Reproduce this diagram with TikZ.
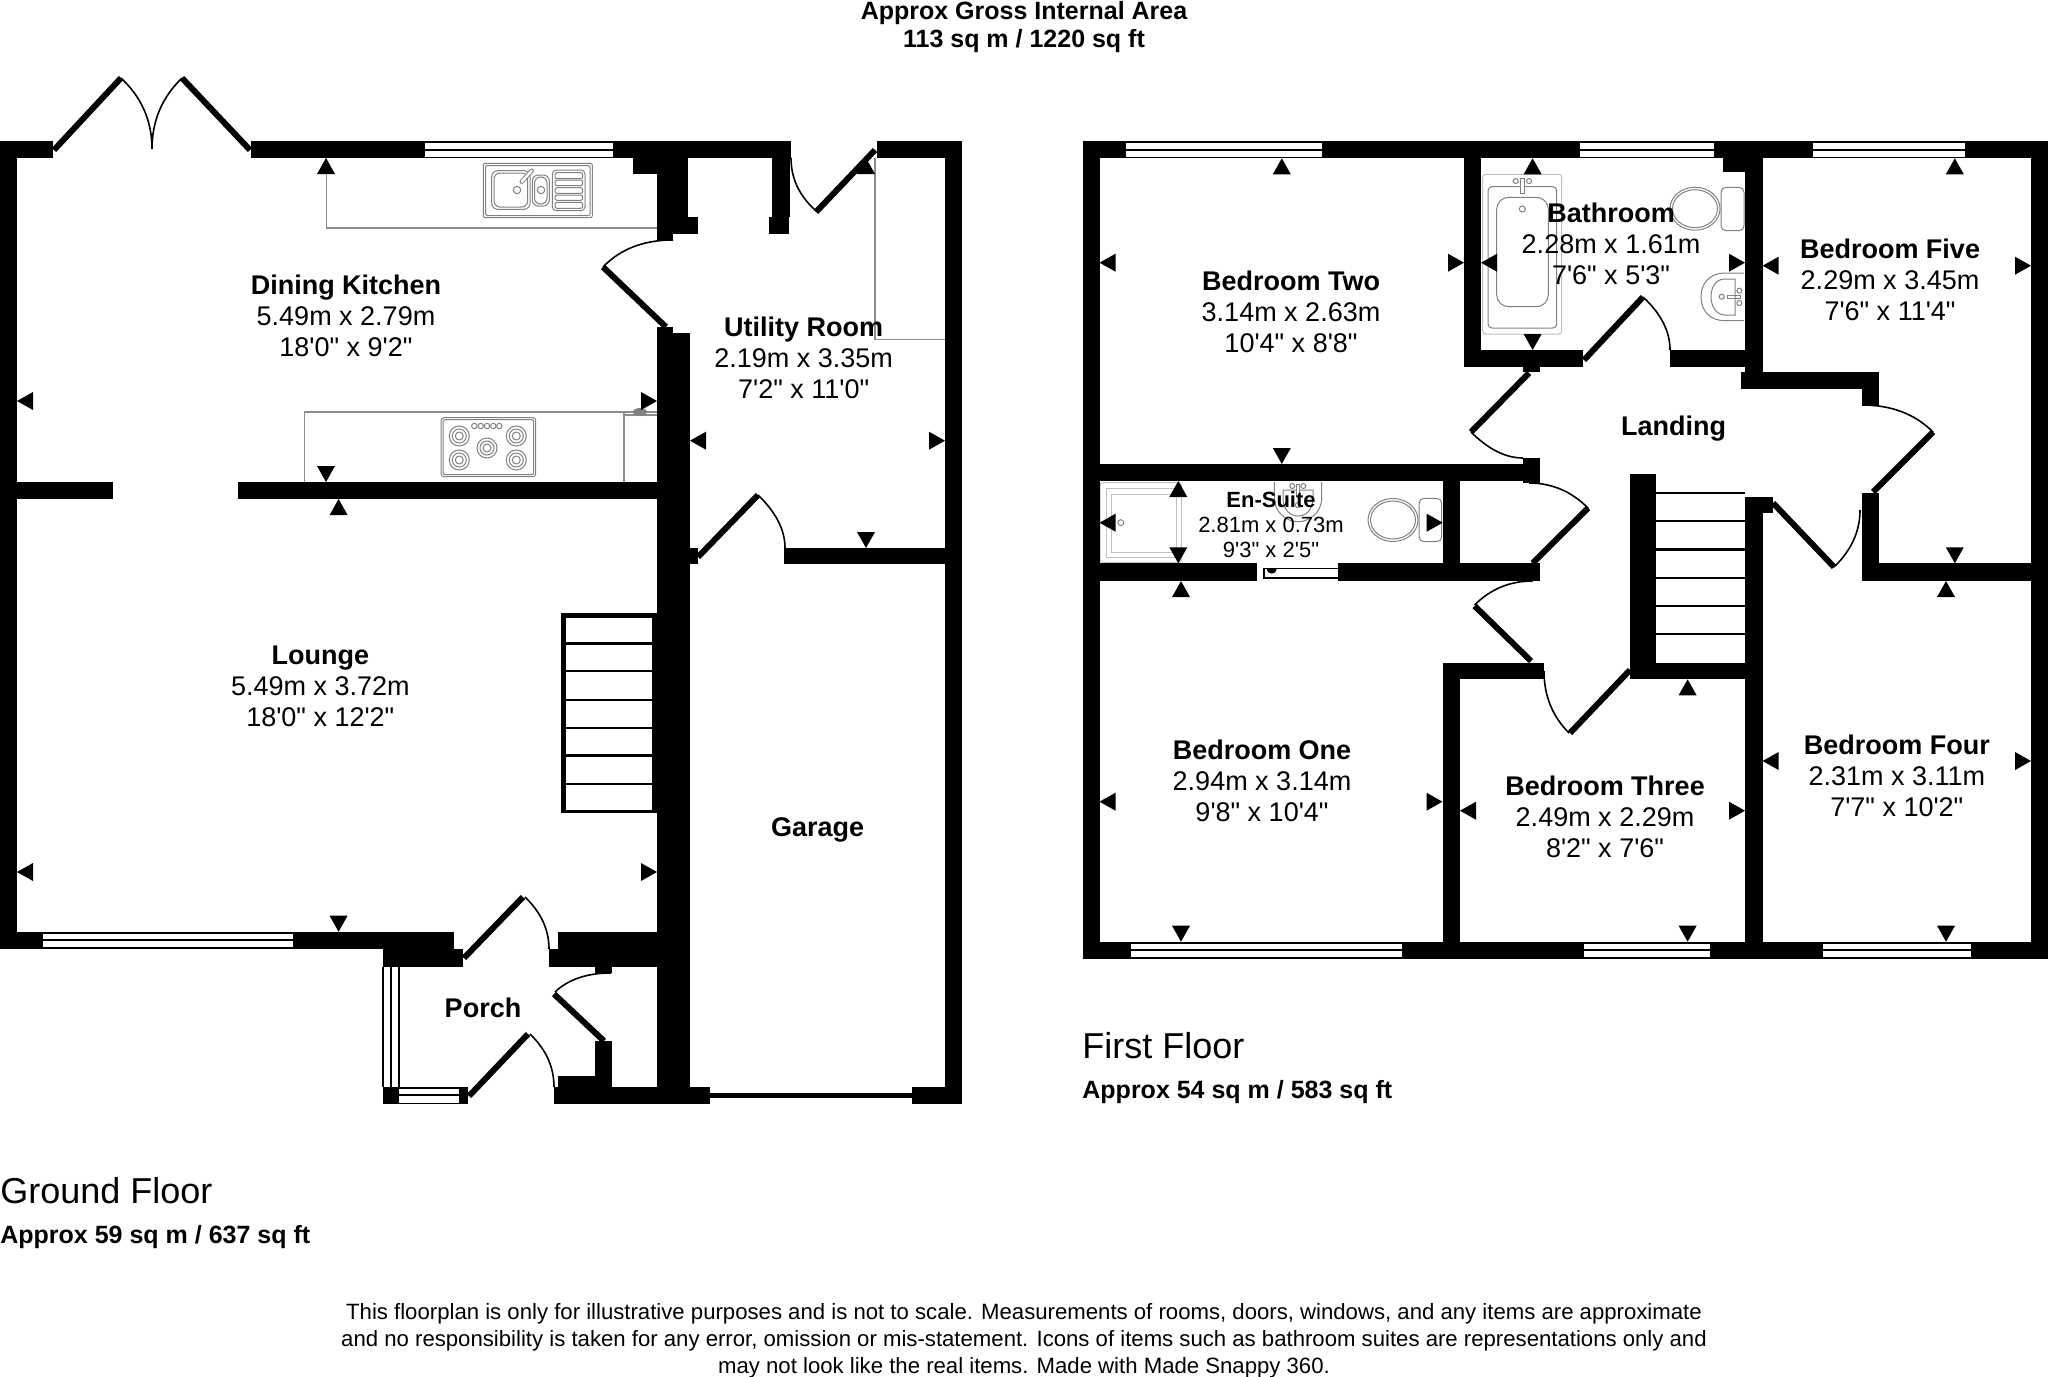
\documentclass[tikz,border=0pt]{standalone}
\usepackage{fontspec}
\usetikzlibrary{calc}
\newfontfamily\lib{Liberation Sans}
\newcommand\wl[4]{\fill[wall] (#1,#2) rectangle (#3,#4);}
\newcommand\hwin[3]{\fill[glass] (#1,#3+2) rectangle (#2,#3+7.5); \fill[glass] (#1,#3+9.5) rectangle (#2,#3+15.5);}
\newcommand\tipU[2]{\fill[mark fill] (#1,#2) -- (#1-9,#2+16) -- (#1+9,#2+16) -- cycle;}
\newcommand\tipD[2]{\fill[mark fill] (#1,#2) -- (#1-9,#2-16) -- (#1+9,#2-16) -- cycle;}
\newcommand\tipL[2]{\fill[mark fill] (#1,#2) -- (#1+16,#2-9) -- (#1+16,#2+9) -- cycle;}
\newcommand\tipR[2]{\fill[mark fill] (#1,#2) -- (#1-16,#2-9) -- (#1-16,#2+9) -- cycle;}
\newcommand\leaf[4]{\draw[door leaf] (#1,#2) -- (#3,#4);}
\newcommand\swing[3]{\draw[door arc] (#1) .. controls ($(#1)!.667!(#2)$) and ($(#3)!.667!(#2)$) .. (#3);}
\newcommand\rings[3]{\draw[fixture] (#1,#2) circle[radius=#3] (#1,#2) circle[radius=#3-3] (#1,#2) circle[radius=#3-6];}
\newcommand\toilet[5]{% cistern x1 y1 x2 y2; bowl centre derived
  \draw[fixture,rounded corners=2.5pt] (#1,#2) rectangle (#3,#4);
  \draw[fixture] (#1-26,#2+#5) ellipse[x radius=25,y radius=21.5];
  \draw[fixture] (#1-26,#2+#5) ellipse[x radius=22.5,y radius=19];
}
\tikzset{
  wall/.style={fill=black},
  glass/.style={fill=white},
  mark fill/.style={fill=black},
  door leaf/.style={draw=black,line width=3pt},
  door arc/.style={draw=black,line width=.8pt},
  fixture/.style={draw=black!50,line width=.5pt,fill=none},
  pale/.style={draw=black!25,line width=.5pt,fill=none},
  counter/.style={draw=black!45,line width=.6pt,fill=none},
  room/.style={font=\lib\fontsize{13.5}{15.5}\selectfont,align=center,inner sep=0pt},
  small room/.style={font=\lib\fontsize{11}{12.5}\selectfont,align=center,inner sep=0pt},
  head/.style={font=\lib\bfseries\fontsize{12.5}{14}\selectfont,align=center,inner sep=0pt},
  floor name/.style={font=\lib\fontsize{18}{20}\selectfont,anchor=west,inner sep=0pt},
  floor area/.style={font=\lib\bfseries\fontsize{12.5}{14}\selectfont,anchor=west,inner sep=0pt},
  note/.style={font=\lib\fontsize{11.08}{13.4}\selectfont,align=center,inner sep=0pt},
}
\begin{document}
\begin{tikzpicture}[x=0.5pt,y=-0.5pt]
\useasboundingbox (0,0) rectangle (2048,1376);
\fill[white] (0,0) rectangle (2048,1376);

%% ---------- GROUND FLOOR ----------
% worktops
\draw[counter] (326.5,158) -- (326.5,228) -- (657,228);
\draw[counter] (304.7,482) -- (304.7,412) -- (657,412);
\draw[counter] (624,412) -- (624,482);
\draw[counter] (624,415) -- (657,415);
\fill[black!50] (640,412) ellipse[x radius=7,y radius=4];
\draw[counter] (875,158) -- (875,339.3) -- (945,339.3);
% sink
\draw[fixture,rounded corners=1pt] (483.3,163.3) rectangle (592.3,217.7);
\draw[fixture,rounded corners=1pt] (485.5,165.5) rectangle (590,215.5);
\draw[fixture,rounded corners=3pt] (491.7,170.7) rectangle (530,209.3);
\draw[fixture,rounded corners=3pt] (494,173) rectangle (527.7,207);
\draw[fixture,rounded corners=3pt] (532.3,175) rectangle (549.3,206);
\draw[fixture,rounded corners=3pt] (534.5,177) rectangle (547,204);
\draw[fixture,rounded corners=2pt] (552.3,170) rectangle (585,210.7);
\foreach \a/\b in {172.7/178.7,180/185.7,187.7/193.3,195/200.3,202.3/208.3}
  \draw[fixture,rounded corners=1pt] (555,\a) rectangle (582.7,\b);
\draw[fixture] (517,190) circle[radius=3.7] (541,190) circle[radius=3.7];
\draw[black!50,line width=2.2pt,line cap=round] (521.7,181.7) -- (531.7,170.7);
\draw[white,line width=1.2pt,line cap=round] (521.7,181.7) -- (531.7,170.7);
% hob
\draw[fixture,rounded corners=1.5pt] (441,417.7) rectangle (535.7,476.7);
\draw[fixture,rounded corners=1pt] (443,419.7) rectangle (533.7,474.7);
\rings{459.3}{436}{10}
\rings{516.3}{436}{10}
\rings{487}{448}{10}
\rings{459.3}{460}{10}
\rings{516.3}{460}{10}
\foreach \k in {474.3,480.7,487,493.3,499.3} \draw[fixture] (\k,426) circle[radius=2.7];

% walls
\wl{0}{141}{53}{158}
\wl{251}{141}{791}{158}
\wl{877}{141}{962}{158}
\wl{0}{141}{17}{949}
\wl{945}{141}{962}{1104}
\hwin{425}{613}{141}
\wl{657}{141}{687.5}{234}
\wl{687.5}{217}{698}{234}
\wl{633}{158}{657}{174}
\wl{657}{234}{673}{240.5}
\wl{657}{327}{673}{333}
\wl{657}{333}{690}{1104}
\wl{772}{158}{790}{217}
\wl{769}{217}{789}{234}
\wl{784}{548}{962}{564}
\wl{690}{548}{698}{564}
\wl{17}{482}{113}{499}
\wl{238}{482}{657}{499}
\wl{0}{931.7}{454}{949}
\hwin{43}{293}{931.7}
\wl{382.7}{949}{462.7}{967}
\wl{557.7}{931.7}{657}{949}
\wl{549.3}{949}{657}{967}
\wl{595}{967}{611.7}{973}
\wl{595}{1041}{611.7}{1087}
\wl{557.7}{1075.7}{595}{1087}
\wl{554.3}{1086.7}{710}{1104}
\wl{912}{1087}{962}{1104}
\wl{709}{1093}{912}{1097.5}
% porch glazing
\draw[black,line width=.8pt] (383,967) -- (383,1087) (391,967) -- (391,1087) (399,967) -- (399,1087);
\wl{383}{1087}{468}{1104}
\fill[glass] (399,1088.5) rectangle (459,1094);
\fill[glass] (399,1096) rectangle (459,1103);
% stairs
\wl{561}{612.7}{657}{618}
\wl{561}{612.7}{566}{812.5}
\wl{652.4}{612.7}{657}{812.5}
\foreach \t in {643.6,671,700,728,755.6,784,811.6}
  \fill[black] (561,\t-1.2) rectangle (657,\t+1.2);
% doors
\leaf{54}{150}{121}{78}
\leaf{250}{150}{182}{78}
\swing{121,78}{152,107}{152,149}
\swing{182,78}{152,107}{152,149}
\leaf{666}{327}{603}{267}
\swing{603,267}{629,240}{673,240}
\leaf{875}{150}{816}{212}
\swing{815,210}{791,188}{791,158}
\leaf{698}{557}{758}{495}
\swing{758,495}{785,521}{785,548}
\leaf{464}{958}{523}{897}
\swing{525,897}{549,920}{549,949}
\leaf{604}{1041}{554}{994}
\swing{555,992}{575,973}{611,973}
\leaf{469}{1096}{528}{1034}
\swing{530,1034}{554,1057}{554,1087}
% dimension marks
\tipU{326}{158}\tipD{326}{482}\tipL{17}{401}\tipR{657}{401}
\tipU{338.6}{499}\tipD{338.6}{931.7}\tipL{17}{872}\tipR{657}{872}
\tipL{690}{440.7}\tipR{945}{440.7}\tipU{866}{158}\tipD{866}{548}

%% ---------- FIRST FLOOR ----------
% bath
\draw[pale,rounded corners=1.5pt] (1482.7,174.3) rectangle (1561.7,334);
\draw[fixture,rounded corners=2pt] (1488,186.7) rectangle (1556.7,328);
\draw[fixture,rounded corners=6pt] (1496.7,197.3) rectangle (1548.3,306.7);
\draw[fixture] (1522.3,209) circle[radius=3];
\draw[fixture] (1515.7,181) circle[radius=2.5] (1529,181) circle[radius=2.5];
\draw[fixture,fill=white] (1520,178) rectangle (1524.3,193);
% bathroom toilet
\toilet{1721}{187.3}{1744}{230.7}{21.4}
% bathroom basin
\draw[fixture] (1744,273) -- (1725,273) .. controls (1710,273) and (1701,283) .. (1701,296.7) .. controls (1701,311) and (1710,320.7) .. (1725,320.7) -- (1744,320.7);
\draw[fixture] (1735,279) -- (1725,279) .. controls (1716,279) and (1711,287) .. (1711,296.7) .. controls (1711,306) and (1716,315) .. (1725,315) -- (1735,315) -- cycle;
\draw[fixture] (1721.7,296.7) circle[radius=2.5];
\draw[fixture] (1727,295) rectangle (1740,298.5);
\draw[fixture] (1739.3,290.7) circle[radius=2.5] (1739.3,303) circle[radius=2.5];
% shower tray
\draw[pale,rounded corners=1.5pt] (1100,482.7) rectangle (1181.7,562.7);
\draw[pale] (1106.7,488) rectangle (1176,557);
\draw[pale] (1111.7,494) rectangle (1176,552);
\draw[fixture] (1120.7,522.7) circle[radius=3];
% en-suite basin
\draw[fixture] (1274.3,482) -- (1274.3,499) .. controls (1275,513) and (1287,521.7) .. (1298,521.7) .. controls (1309,521.7) and (1321,513) .. (1321.7,499) -- (1321.7,482);
\draw[fixture] (1283,490) -- (1283,500) .. controls (1284,510) and (1290,516) .. (1298,516) .. controls (1306,516) and (1312,510) .. (1313,500) -- (1313,490) -- cycle;
\draw[fixture] (1292.3,486) circle[radius=2.5] (1303.3,486) circle[radius=2.5];
\draw[fixture,fill=white] (1296,484) rectangle (1299.5,495);
\draw[fixture] (1297.7,505) circle[radius=2.5];
% en-suite toilet
\toilet{1419}{498.3}{1441.7}{541.7}{21.7}

% walls
\wl{1082.7}{141}{2048}{158.3}
\wl{1082.7}{141}{1099.5}{959}
\wl{1082.7}{941.7}{2048}{959}
\wl{2031}{141}{2048}{959}
\hwin{1126}{1321.5}{141}
\hwin{1580}{1714}{141}
\hwin{1813}{1965}{141}
\hwin{1131}{1402}{941.7}
\hwin{1584}{1710}{941.7}
\hwin{1823}{1971}{941.7}
\wl{1464}{158}{1481}{367}
\wl{1464}{350}{1583}{367}
\wl{1670}{350}{1745}{367}
\wl{1745}{158}{1762.6}{389}
\wl{1723}{158}{1745}{171.7}
\wl{1740.5}{372}{1879}{389}
\wl{1862}{389}{1879}{405.7}
\wl{1523}{367}{1540}{372}
\wl{1082.7}{464}{1540}{480.7}
\wl{1523}{458}{1540}{483}
\wl{1442.7}{480}{1460}{564}
\wl{1082.7}{563.3}{1256.7}{581}
\wl{1338.3}{563.3}{1540}{581}
\fill[glass,draw=black,line width=.6pt] (1264,568.7) rectangle (1338.3,578);
\fill[black] (1266.5,568.5) arc[start angle=180,end angle=0,radius=5.2] -- cycle;
\wl{1442.5}{662.7}{1544}{679.3}
\wl{1442.5}{662.7}{1460}{942}
\wl{1630}{474}{1655.5}{679.3}
\wl{1630}{662.7}{1762.6}{679.3}
\wl{1745}{496.7}{1762.6}{942}
\wl{1745}{496.7}{1773}{513}
\wl{1862}{492.7}{1879}{581}
\wl{1862}{563.3}{2048}{581}
% stairs
\foreach \t in {492.7,521,549.5,578,606,634}
  \fill[black] (1655,\t-1.2) rectangle (1745,\t+1.2);
% doors
\leaf{1584}{360}{1643}{297}
\swing{1643,297}{1670,322}{1670,350}
\leaf{1529}{373}{1471}{432}
\swing{1471,432}{1497,458}{1523,458}
\leaf{1532.6}{563.3}{1588}{508}
\swing{1588,508}{1563,483}{1529,483}
\leaf{1531}{661}{1474.6}{606}
\swing{1474.6,605}{1498.6,581}{1532.6,581}
\leaf{1630}{670}{1570}{733}
\swing{1569,733}{1544,708}{1544,671}
\leaf{1873}{492}{1933}{432}
\swing{1933,432}{1906,405}{1862,405}
\leaf{1773}{503}{1834}{567}
\swing{1834,567}{1860,542}{1860,510}
% dimension marks
\tipU{1281.8}{158.3}\tipL{1099.5}{262.7}\tipR{1464}{262.7}\tipD{1281.8}{464}
\tipU{1532.6}{158.3}\tipL{1481}{262.7}\tipR{1745}{262.7}\tipD{1532.6}{350}
\tipU{1954.8}{158.3}\tipL{1762.6}{265.7}\tipR{2031}{265.7}\tipD{1954.8}{563.3}
\tipU{1178.3}{481}\tipD{1178.3}{563.3}\tipL{1099.5}{522.7}\tipR{1442.7}{522.7}
\tipU{1181}{581}\tipD{1181}{941.7}\tipL{1099.5}{801.7}\tipR{1442.5}{801.7}
\tipU{1687.6}{679.3}\tipD{1687.6}{941.7}\tipL{1460}{810.7}\tipR{1745}{810.7}
\tipU{1946}{581}\tipD{1946}{941.7}\tipL{1762.6}{761}\tipR{2031}{761}

%% ---------- LABELS ----------
\node[room] (dining) at (346,316) {\textbf{Dining Kitchen}\\5.49m x 2.79m\\18'0" x 9'2"};
\node[room] (utility) at (803.6,358) {\textbf{Utility Room}\\2.19m x 3.35m\\7'2" x 11'0"};
\node[room] (lounge) at (320.3,686) {\textbf{Lounge}\\5.49m x 3.72m\\18'0" x 12'2"};
\node[room] (garage) at (817.6,830) {\textbf{Garage}};
\node[room] (porch) at (483,1007.5) {\textbf{Porch}};
\node[room] (bedtwo) at (1291,312) {\textbf{Bedroom Two}\\3.14m x 2.63m\\10'4" x 8'8"};
\node[room] (bath) at (1611,244) {\textbf{Bathroom}\\2.28m x 1.61m\\7'6" x 5'3"};
\node[room] (bedfive) at (1890,280) {\textbf{Bedroom Five}\\2.29m x 3.45m\\7'6" x 11'4"};
\node[room] (landing) at (1673.5,429) {\textbf{Landing}};
\node[small room] (ensuite) at (1271,525) {\textbf{En-Suite}\\2.81m x 0.73m\\9'3" x 2'5"};
\node[room] (bedone) at (1262,781) {\textbf{Bedroom One}\\2.94m x 3.14m\\9'8" x 10'4"};
\node[room] (bedthree) at (1605,816.7) {\textbf{Bedroom Three}\\2.49m x 2.29m\\8'2" x 7'6"};
\node[room] (bedfour) at (1896.8,775.7) {\textbf{Bedroom Four}\\2.31m x 3.11m\\7'7" x 10'2"};
\node[head] (title) at (1024,26.6) {Approx Gross Internal Area\\113 sq m / 1220 sq ft};
\node[floor name] (gname) at (0,1191) {Ground Floor};
\node[floor area] (garea) at (0,1237) {Approx 59 sq m / 637 sq ft};
\node[floor name] (fname) at (1082,1046) {First Floor};
\node[floor area] (farea) at (1082,1092) {Approx 54 sq m / 583 sq ft};
\node[note] (notes) at (1024,1340.5) {This floorplan is only for illustrative purposes and is not to scale. Measurements of rooms, doors, windows, and any items are approximate\\and no responsibility is taken for any error, omission or mis-statement. Icons of items such as bathroom suites are representations only and\\may not look like the real items. Made with Made Snappy 360.};
\end{tikzpicture}
\end{document}
